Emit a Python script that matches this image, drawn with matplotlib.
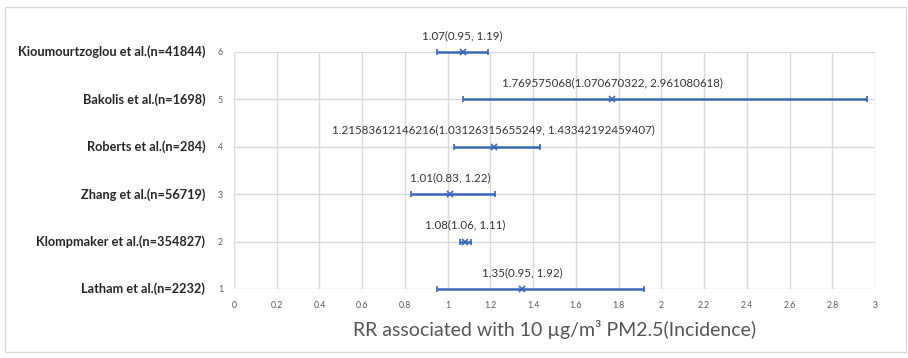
import matplotlib
matplotlib.use('Agg')
import matplotlib.pyplot as plt
from matplotlib.patches import Rectangle

# Study data
studies = ['Latham et al.(n=2232)', 'Klompmaker et al.(n=354827)', 'Zhang et al.(n=56719)',
           'Roberts et al.(n=284)', 'Bakolis et al.(n=1698)', 'Kioumourtzoglou et al.(n=41844)']
rr = [1.35, 1.08, 1.01, 1.215836121, 1.769575068, 1.07]
lower = [0.95, 1.06, 0.83, 1.031263157, 1.070670322, 0.95]
upper = [1.92, 1.11, 1.22, 1.433421925, 2.961080618, 1.19]
labels = ['1.35(0.95, 1.92)', '1.08(1.06, 1.11)', '1.01(0.83, 1.22)',
          '1.21583612146216(1.03126315655249, 1.43342192459407)',
          '1.769575068(1.070670322, 2.961080618)', '1.07(0.95, 1.19)']
ypos = [1, 2, 3, 4, 5, 6]

plt.rcParams['font.family'] = ['Lato', 'DejaVu Sans']

fig = plt.figure(figsize=(9.08, 3.58), dpi=100)
ax = fig.add_axes([234 / 908, 1 - 289 / 358, (875 - 234) / 908, (289 - 52) / 358])

blue = '#3a66b8'
err_lo = [r - l for r, l in zip(rr, lower)]
err_hi = [u - r for r, u in zip(rr, upper)]
ax.errorbar(rr, ypos, xerr=[err_lo, err_hi], fmt='x', color=blue, ecolor=blue,
            elinewidth=1.8, capsize=2, capthick=1.2, markersize=4, markeredgewidth=1.2,
            zorder=3, clip_on=False)

for x, y, t in zip(rr, ypos, labels):
    ax.annotate(t, (x, y), xytext=(0, 8), textcoords='offset points',
                ha='center', va='bottom', fontsize=8.3, color='#333333')

ax.set_xlim(0, 3)
ax.set_ylim(1, 6)
ax.set_xticks([i * 0.2 for i in range(16)])
ax.set_xticklabels(['0', '0.2', '0.4', '0.6', '0.8', '1', '1.2', '1.4', '1.6', '1.8',
                    '2', '2.2', '2.4', '2.6', '2.8', '3'])
ax.set_yticks(ypos)
ax.tick_params(axis='both', length=0, labelsize=6.3, colors='#595959')
ax.tick_params(axis='y', pad=8)
ax.tick_params(axis='x', pad=9)
ax.grid(True, color='#d9d9d9', linewidth=1)
ax.set_axisbelow(True)
for s in ax.spines.values():
    s.set_visible(False)

for y, name in zip(ypos, studies):
    ax.text(-0.045, y, name, transform=ax.get_yaxis_transform(), ha='right', va='center',
            fontsize=9.2, fontweight='bold', color='#262626')

ax.set_xlabel('RR associated with 10 µg/m³ PM2.5(Incidence)', fontsize=14,
              color='#555555', labelpad=7)

fig.patches.append(Rectangle((5 / 908, 1 - 352 / 358), 901 / 908, 345 / 358,
                             transform=fig.transFigure, fill=False,
                             edgecolor='#d9d9d9', linewidth=1))

fig.savefig('out.png', dpi=100)
